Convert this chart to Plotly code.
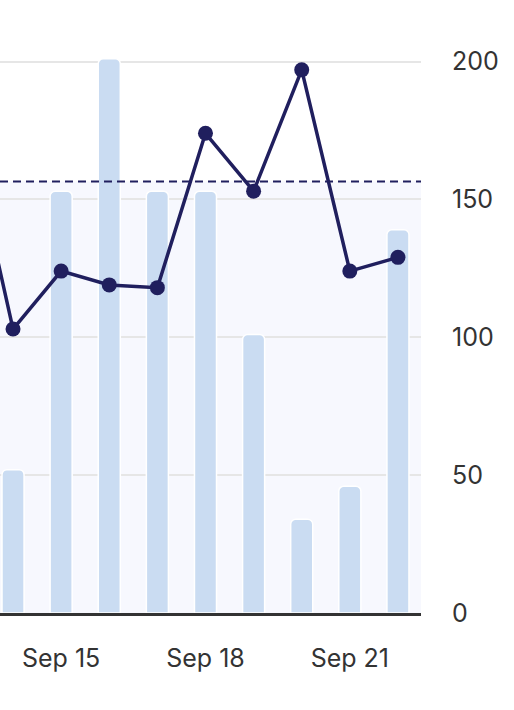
import plotly.graph_objects as go

NAVY = "#201f5e"
BAR = "#cadcf2"
BAND = "#f7f8fe"
GRID = "#e6e6e6"
TEXT = "#333333"

dates = ["2024-09-13", "2024-09-14", "2024-09-15", "2024-09-16", "2024-09-17",
         "2024-09-18", "2024-09-19", "2024-09-20", "2024-09-21", "2024-09-22"]
bar_values = [None, 52, 153, 201, 153, 153, 101, 34, 46, 139]
line_values = [181, 103, 124, 119, 118, 174, 153, 197, 124, 129]
threshold = 156.5

x_range = ["2024-09-13 17:30", "2024-09-22 11:30"]
tick_dates = ["2024-09-15", "2024-09-18", "2024-09-21"]

fig = go.Figure()

# shaded band up to the threshold
fig.add_shape(type="rect", xref="paper", yref="y", x0=0, x1=1, y0=0, y1=threshold,
              fillcolor=BAND, line_width=0, layer="below")

fig.add_trace(go.Bar(
    x=dates, y=bar_values, name="Volume",
    marker=dict(color=BAR, line=dict(color="white", width=1.5), cornerradius=5),
    width=22 / 48 * 86400000,
))

fig.add_trace(go.Scatter(
    x=dates, y=line_values, name="Value",
    mode="lines+markers",
    line=dict(color=NAVY, width=3.5),
    marker=dict(color=NAVY, size=15),
))

fig.add_shape(type="line", xref="paper", yref="y", x0=0, x1=1, y0=threshold, y1=threshold,
              line=dict(color=NAVY, width=2, dash="8px,5px"))

fig.update_layout(
    width=514, height=710,
    margin=dict(l=0, r=93, t=34, b=97),
    paper_bgcolor="white", plot_bgcolor="white",
    showlegend=False,
    font=dict(family="Inter, Roboto, sans-serif", size=25, color=TEXT),
)
fig.update_xaxes(
    type="date", range=x_range,
    tickvals=tick_dates, tickformat="%b %-d",
    showgrid=False, ticks="", ticklabelstandoff=21,
    showline=True, linecolor="#333333", linewidth=2.5,
    zeroline=False, layer="above traces",
)
fig.update_yaxes(
    side="right", range=[0, 210],
    tickvals=[0, 50, 100, 150, 200],
    showgrid=True, gridcolor=GRID, gridwidth=1.5,
    zeroline=False,
    ticks="", ticklabelstandoff=30,
)

# drop the default page margin so the chart sits flush at 0,0
fig.write_html("out.html", config={"displayModeBar": False},
               post_script="document.body.style.margin='0';")
